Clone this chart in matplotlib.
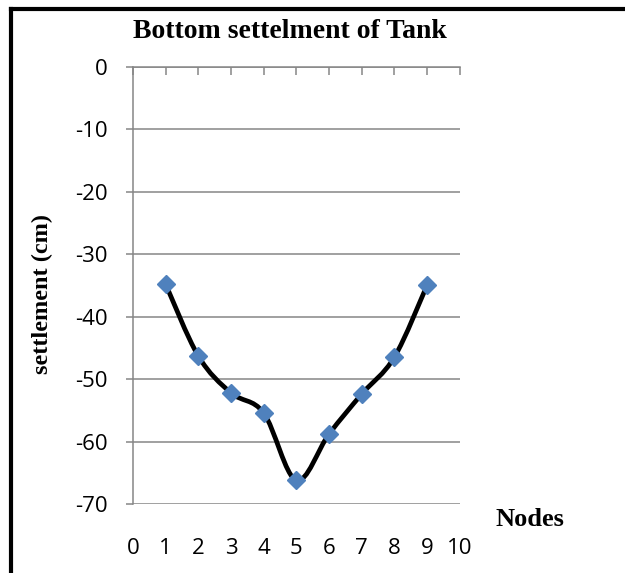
import numpy as np
import matplotlib.pyplot as plt
from matplotlib.path import Path
from matplotlib.patches import PathPatch
from matplotlib.lines import Line2D

nodes = [1, 2, 3, 4, 5, 6, 7, 8, 9]
settlement = [-34.8, -46.3, -52.2, -55.4, -66.2, -58.8, -52.4, -46.5, -35.0]

x_ticks = list(range(0, 11))
y_ticks = list(range(-70, 1, 10))

grid_col = '#868686'
marker_col = '#4F81BD'
serif = 'Liberation Serif'
sans = 'Open Sans'

plt.rcParams['axes.unicode_minus'] = False

fig = plt.figure(figsize=(6.25, 5.73), dpi=100)
ax = fig.add_axes([0.2128, 0.1204, 0.5226, 0.7627])

# smoothed line through the points (cubic bezier, catmull-rom style)
pts = np.column_stack([nodes, settlement]).astype(float)
ext = np.vstack([pts[0], pts, pts[-1]])
verts = [tuple(pts[0])]
codes = [Path.MOVETO]
for i in range(1, len(ext) - 2):
    p0, p1, p2, p3 = ext[i - 1], ext[i], ext[i + 1], ext[i + 2]
    c1 = p1 + (p2 - p0) / 6.0
    c2 = p2 - (p3 - p1) / 6.0
    verts += [tuple(c1), tuple(c2), tuple(p2)]
    codes += [Path.CURVE4] * 3
ax.add_patch(PathPatch(Path(verts, codes), facecolor='none', edgecolor='black',
                       lw=3.4, zorder=3, capstyle='round', joinstyle='round'))
ax.plot(nodes, settlement, linestyle='none', marker='D', markersize=9.5,
        color=marker_col, markeredgecolor=marker_col, zorder=4)

ax.set_xlim(0, 10)
ax.set_ylim(-70, 0)
ax.set_xticks(x_ticks)
ax.set_yticks(y_ticks)
for v in y_ticks:
    ax.axhline(v, color=grid_col, lw=1.1, zorder=1)

for side in ['right', 'bottom']:
    ax.spines[side].set_visible(False)
for side in ['left', 'top']:
    ax.spines[side].set_color(grid_col)
    ax.spines[side].set_linewidth(1.1)

ax.tick_params(axis='x', top=True, bottom=False, direction='in', length=6,
               width=1.1, color=grid_col, labelbottom=True, labeltop=False,
               pad=24.5, labelsize=16)
ax.tick_params(axis='y', left=True, direction='out', length=5, width=1.1,
               color=grid_col, pad=13, labelsize=16)
for lab in ax.get_xticklabels() + ax.get_yticklabels():
    lab.set_fontfamily(sans)

fig.text(290 / 625, 1 - 31 / 573, 'Bottom settelment of Tank', family=serif,
         fontweight='bold', fontsize=20, ha='center', va='center')
fig.text(42 / 625, 1 - 294 / 573, 'settlement (cm)', family=serif,
         fontweight='bold', fontsize=17.5, rotation=90, ha='center', va='center')
fig.text(530 / 625, 1 - 520 / 573, 'Nodes', family=serif, fontweight='bold',
         fontsize=19, ha='center', va='center')

# frame lines on top and left edges
fig.add_artist(Line2D([11 / 625, 1], [1 - 9 / 573, 1 - 9 / 573],
                      transform=fig.transFigure, color='black', lw=3))
fig.add_artist(Line2D([11 / 625, 11 / 625], [0, 1 - 9 / 573],
                      transform=fig.transFigure, color='black', lw=3))

fig.savefig('out.png', dpi=100)
